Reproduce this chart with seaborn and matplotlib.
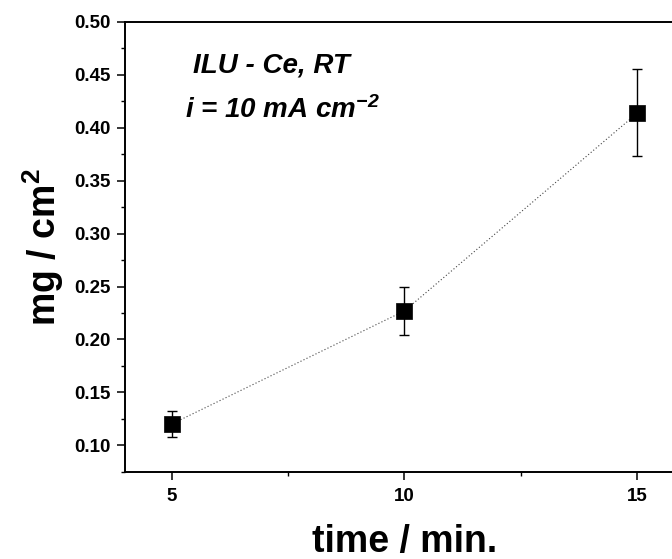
import matplotlib
matplotlib.use("Agg")
import matplotlib.pyplot as plt
import seaborn as sns
import pandas as pd
from matplotlib.ticker import MultipleLocator, FormatStrFormatter

# Data
time_min = [5, 10, 15]
mass_mg_cm2 = [0.120, 0.227, 0.414]
err_low = [0.012, 0.023, 0.041]
err_high = [0.012, 0.023, 0.042]

df = pd.DataFrame({"time": time_min, "mass": mass_mg_cm2})

sns.set_theme(style="ticks")
plt.rcParams["font.family"] = ["Liberation Sans", "DejaVu Sans"]
plt.rcParams["font.weight"] = "bold"
plt.rcParams["mathtext.fontset"] = "custom"
plt.rcParams["mathtext.rm"] = "Liberation Sans:italic:bold"
plt.rcParams["mathtext.bf"] = "Liberation Sans:bold"
plt.rcParams["mathtext.it"] = "Liberation Sans:italic:bold"

fig = plt.figure(figsize=(6.72, 5.59), dpi=100)
W, H = 672, 559
left, right, top, bottom = 125, 684, 22, 471.7
ax = fig.add_axes([left / W, 1 - bottom / H, (right - left) / W, (bottom - top) / H])

sns.lineplot(data=df, x="time", y="mass", ax=ax, color="#444444", lw=0.8,
             linestyle=(0, (1, 2)), zorder=1)
ax.errorbar(time_min, mass_mg_cm2, yerr=[err_low, err_high], fmt="none",
            ecolor="black", elinewidth=1.0, capsize=3.4, capthick=1.0, zorder=2)
sns.scatterplot(data=df, x="time", y="mass", ax=ax, marker="s", s=128,
                color="black", edgecolor="black", linewidth=0.5, zorder=3)

ax.set_xlim(4, 16)
ax.set_ylim(0.075, 0.50)
ax.set_xticks([5, 10, 15])
ax.xaxis.set_minor_locator(MultipleLocator(2.5))
ax.yaxis.set_major_locator(MultipleLocator(0.05))
ax.yaxis.set_minor_locator(MultipleLocator(0.025))
ax.yaxis.set_major_formatter(FormatStrFormatter("%.2f"))

for s in ["left", "bottom", "top"]:
    ax.spines[s].set_linewidth(1.4)
    ax.spines[s].set_color("black")
ax.spines["right"].set_visible(False)

ax.tick_params(axis="both", which="major", direction="out", length=5.5, width=1.1,
               labelsize=13.5, color="black", labelcolor="black")
ax.tick_params(axis="both", which="minor", direction="out", length=3, width=1.0,
               color="black")
ax.tick_params(axis="x", which="major", pad=6)
ax.tick_params(axis="y", which="major", pad=5)
for lab in ax.get_xticklabels() + ax.get_yticklabels():
    lab.set_fontweight("bold")

ax.set_xlabel("time / min.", fontsize=27, fontweight="bold", labelpad=14, color="black")
ax.set_ylabel(r"mg / cm$^{\mathbf{2}}$", fontsize=27, fontweight="bold", labelpad=6,
              color="black")

ax.text(0.1216, 0.8866, "ILU - Ce, RT", transform=ax.transAxes, fontsize=20,
        fontweight="bold", fontstyle="italic", va="baseline", ha="left", color="black")
ax.text(0.107, 0.7865, r"i = 10 mA cm$^{-2}$", transform=ax.transAxes, fontsize=20,
        fontweight="bold", fontstyle="italic", va="baseline", ha="left", color="black")

fig.savefig("out.png", dpi=100)
